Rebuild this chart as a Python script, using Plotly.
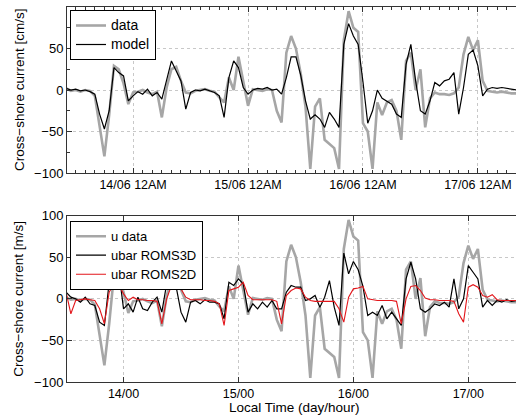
import numpy as np
import plotly.graph_objects as go

# hourly samples starting 13/06 12:00 local time
t_start_day = 13.5
hours = np.arange(95)

data_cms = [2, -1, 0, -2, 0, -1, -7, -45, -80, -30,
            29, 25, 8, -17, -3, -2, 0, -3, -5, -2,
            -33, 3, 25, 28, 11, -3, -4, -1, 0, 1,
            -1, -2, -9, -15, 15, 0, 40, 11, -19, 1,
            0, -1, 1, 0, -25, -39, 45, 65, 50, 20,
            -20, -95, -20, -10, -60, -65, -70, -95, 60, 95,
            75, 70, -40, -50, -95, -15, -30, -15, -12, -25,
            -60, 35, 45, 0, 25, -45, -10, -3, -5, -5,
            -6, -4, 3, 43, 64, 48, 60, 11, -1, -2,
            -3, -2, -3, -4, -4]

model_cms = [2, 0, 1, -1, 0, -2, -5, -29, -47, -25,
             27, 21, 17, -13, -7, -2, -5, 1, -7, -3,
             -11, 11, 35, 23, 11, -23, -3, 0, -1, 1,
             -1, -3, -7, -33, 15, 35, 27, 3, -5, 0,
             2, 1, 3, 0, 1, -5, 15, 40, 40, 18,
             -13, -35, -30, -35, -45, -27, -35, -45, 55, 80,
             65, 55, 10, -40, -25, 0, -10, -13, -17, -29,
             -33, 31, 55, 11, -25, -29, -13, 9, 5, 11,
             13, 21, -29, 3, 43, 48, 29, -7, 1, 3,
             2, 3, 2, 1, 0]

roms3d = [8, 2, 0, -4, 2, -6, -8, -28, -32, 20,
          30, 34, -12, -6, -16, 2, -12, -14, -4, 2,
          -16, 18, 28, 14, -16, -28, -4, -2, -6, -1,
          -4, -4, -6, -24, 20, 16, 24, 18, -16, -6,
          -12, -4, -10, -2, -12, -12, 8, 16, 14, 14,
          -2, 0, 4, -10, 2, 22, -10, -32, 55, 30,
          45, 35, 15, -20, -16, -20, -8, -24, -16, -24,
          -32, 24, 44, 24, -12, -16, -12, -6, -8, -4,
          -10, 24, -12, 0, 40, 32, 24, -10, -2, -8,
          -2, -4, -1, -3, -2]

roms2d = [8, -18, -2, -1, 0, -1, -2, -12, -30, 8,
          18, 17, 6, -2, 2, -1, -1, -2, -2, -3,
          -30, 0, 16, 15, 12, 2, -1, -1, -1, -2,
          -2, -3, -6, -32, 10, 12, 14, 20, 4, -1,
          -1, -1, -1, -1, -3, -30, 4, 10, 13, 12,
          2, -2, -3, -3, -3, -3, -3, -12, -28, 2,
          12, 13, 15, 0, -1, -2, -2, -2, -2, -3,
          -30, 0, 15, 16, 10, 1, -1, -1, -2, -2,
          -2, -3, -18, -28, 14, 17, 14, 4, 2, 5,
          -1, -2, -2, -2, -2]

top_tick_vals = [14.083, 15.083, 16.083, 17.083]
top_tick_text = ["14/06 12AM", "15/06 12AM", "16/06 12AM", "17/06 12AM"]
bot_tick_vals = [14, 15, 16, 17]
bot_tick_text = ["14/00", "15/00", "16/00", "17/00"]
y_ticks = [-100, -50, 0, 50, 100]

t = t_start_day + hours / 24.0

GRAY = "#a6a6a6"
FONT = "Liberation Sans, Arial, Helvetica, sans-serif"

def lg(name, size):
    return "<span style='font-size:%spx'>%s</span>" % (size, name)

fig = go.Figure()
fig.add_trace(go.Scatter(x=t, y=data_cms, mode="lines", name=lg("data", 14),
                         line=dict(color=GRAY, width=2.6), xaxis="x", yaxis="y",
                         legend="legend"))
fig.add_trace(go.Scatter(x=t, y=model_cms, mode="lines", name=lg("model", 14),
                         line=dict(color="black", width=1.2), xaxis="x", yaxis="y",
                         legend="legend"))
fig.add_trace(go.Scatter(x=t, y=data_cms, mode="lines", name=lg("u data", 13),
                         line=dict(color=GRAY, width=2.6), xaxis="x2", yaxis="y2",
                         legend="legend2"))
fig.add_trace(go.Scatter(x=t, y=roms3d, mode="lines", name=lg("ubar ROMS3D", 13),
                         line=dict(color="black", width=1.2), xaxis="x2", yaxis="y2",
                         legend="legend2"))
fig.add_trace(go.Scatter(x=t, y=roms2d, mode="lines", name=lg("ubar ROMS2D", 13),
                         line=dict(color="#e3161b", width=1.1), xaxis="x2", yaxis="y2",
                         legend="legend2"))

xr = [13.508, 17.415]
common_x = dict(range=xr, showline=True, linecolor="#333333", linewidth=1,
                mirror="allticks", ticks="inside", ticklen=5, tickcolor="#333333",
                showgrid=True, gridcolor="#c8c8c8", griddash="dot", gridwidth=1,
                zeroline=False, tickfont=dict(family=FONT, size=12.5, color="black"))
common_y = dict(range=[-100, 100], tickvals=y_ticks, showline=True, linecolor="#333333",
                linewidth=1, mirror=False, ticks="inside", ticklen=5, tickcolor="#333333",
                showgrid=True, gridcolor="#c8c8c8", griddash="dot", gridwidth=1,
                zeroline=False, tickfont=dict(family=FONT, size=13, color="black"))

plot_h = 416 - 7 - 34
plot_w = 516 - 67
def px_to_paper_x(px):
    return (px - 67) / plot_w
def py_to_paper_y(py):
    return 1 - (py - 7) / plot_h

fig.update_layout(
    width=516, height=416,
    margin=dict(l=67, r=0, t=7, b=34),
    plot_bgcolor="white", paper_bgcolor="white",
    font=dict(family=FONT, size=13, color="black"),
    xaxis=dict(common_x, domain=[0, 1], anchor="y", tickvals=top_tick_vals,
               ticktext=top_tick_text,
               minor=dict(tick0=14.083, dtick=1/12, ticks="inside", ticklen=3,
                          tickcolor="#333333", showgrid=False)),
    yaxis=dict(common_y, domain=[0.5573, 1], anchor="x",
               minor=dict(tick0=0, dtick=25, ticks="inside", ticklen=3,
                          tickcolor="#333333", showgrid=False)),
    xaxis2=dict(common_x, domain=[0, 1], anchor="y2", tickvals=bot_tick_vals,
                ticktext=bot_tick_text),
    yaxis2=dict(common_y, domain=[0, 0.4435], anchor="x2"),
    legend=dict(x=px_to_paper_x(70), y=py_to_paper_y(10), xanchor="left", yanchor="top",
                bordercolor="black", borderwidth=1, bgcolor="white",
                font=dict(family=FONT, size=12), tracegroupgap=0,
                itemwidth=30),
    legend2=dict(x=px_to_paper_x(70), y=py_to_paper_y(220.7), xanchor="left", yanchor="top",
                 bordercolor="black", borderwidth=1, bgcolor="white",
                 font=dict(family=FONT, size=12), tracegroupgap=0,
                 itemwidth=30),
)

fig.add_annotation(text="Cross\u2212shore current [cm/s]", textangle=-90,
                   x=px_to_paper_x(19), y=py_to_paper_y(90), xref="paper", yref="paper",
                   xanchor="center", yanchor="middle",
                   showarrow=False, font=dict(family=FONT, size=13.5, color="black"))
fig.add_annotation(text="Cross\u2212shore current [m/s]", textangle=-90,
                   x=px_to_paper_x(19), y=py_to_paper_y(298.7), xref="paper", yref="paper",
                   xanchor="center", yanchor="middle",
                   showarrow=False, font=dict(family=FONT, size=13.5, color="black"))
fig.add_annotation(text="Local Time (day/hour)",
                   x=px_to_paper_x(294), y=py_to_paper_y(408), xref="paper", yref="paper",
                   xanchor="center", yanchor="middle",
                   showarrow=False, font=dict(family=FONT, size=13.5, color="black"))

fig.write_html("out.html", config={"displayModeBar": False},
               post_script="document.body.style.margin='0';")
